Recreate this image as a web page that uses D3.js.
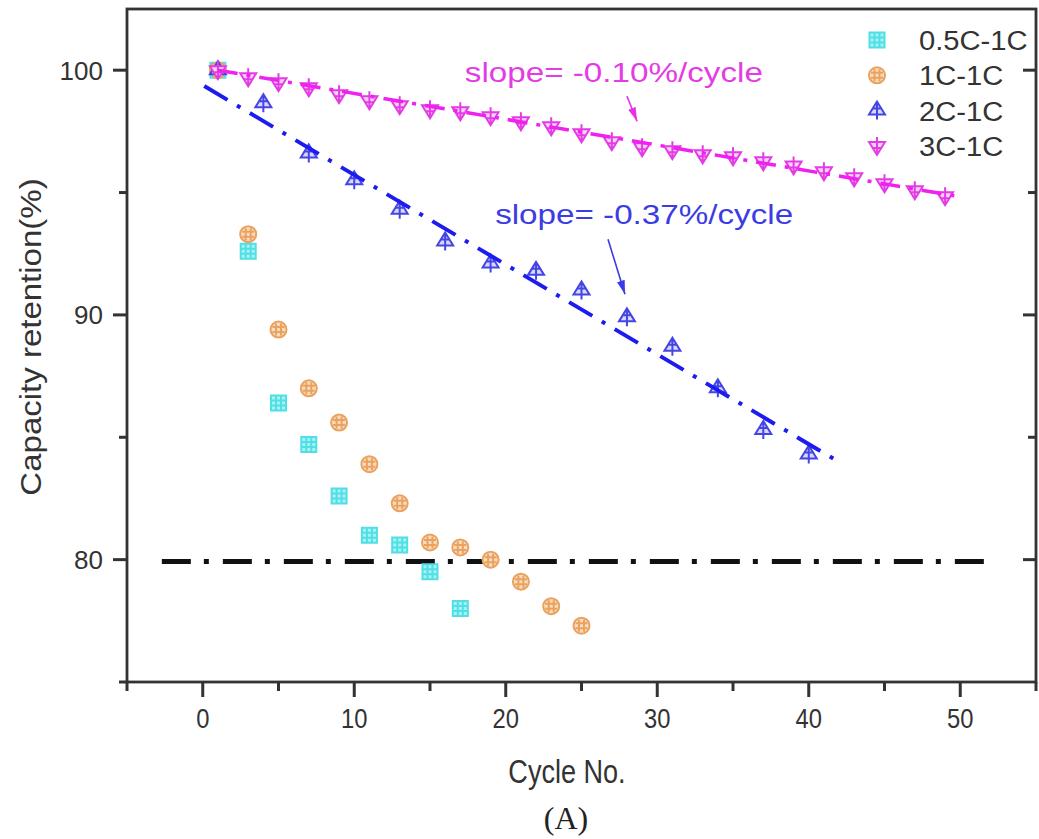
<!DOCTYPE html>
<html>
<head>
<meta charset="utf-8">
<script src="https://cdn.jsdelivr.net/npm/d3@7"></script>
<style>
    body { margin: 0; background: #fff; }
    text { font-family: "Liberation Sans", Arial, sans-serif; }
</style>
</head>
<body>
<svg id="chart" width="1039" height="839"></svg>
<script>
// series
let cyc05 = [1, 3, 5, 7, 9, 11, 13, 15, 17]
let ret05 = [100, 92.6, 86.4, 84.7, 82.6, 81.0, 80.6, 79.5, 78.0]

let cyc1 = [1, 3, 5, 7, 9, 11, 13, 15, 17, 19, 21, 23, 25]
let ret1 = [100, 93.3, 89.4, 87.0, 85.6, 83.9, 82.3, 80.7, 80.5, 80.0, 79.1, 78.1, 77.3]

let cyc2 = [1, 4, 7, 10, 13, 16, 19, 22, 25, 28, 31, 34, 37, 40]
let ret2 = [100, 98.65, 96.6, 95.5, 94.3, 93.0, 92.1, 91.8, 91.0, 89.9, 88.7, 87.0, 85.3, 84.3]

let cyc3 = [1, 3, 5, 7, 9, 11, 13, 15, 17, 19, 21, 23, 25, 27, 29, 31, 33, 35, 37, 39, 41, 43, 45, 47, 49]
let ret3 = [100, 99.71, 99.51, 99.30, 99.02, 98.77, 98.57, 98.40, 98.32, 98.12, 97.91, 97.71, 97.42,
    97.10, 96.85, 96.73, 96.56, 96.48, 96.28, 96.11, 95.87, 95.62, 95.38, 95.09, 94.85]

// fitted lines and 80% limit
let fit2X = [0.1, 41.7]
let fit2Y = [99.35, 84.1]
let fit3X = [1, 49.8]
let fit3Y = [100.0, 94.85]
let limitX = [-2.7, 52.2]
let limitY = [79.92, 79.92]

let seriesNames = ["0.5C-1C", "1C-1C", "2C-1C", "3C-1C"]
let xTicks = [0, 10, 20, 30, 40, 50]
let xMinor = [-5, 5, 15, 25, 35, 45, 55]
let yTicks = [80, 90, 100]
let yMinor = [75, 85, 95]

let colors = {
    "0.5C-1C": "#4fdfe4",
    "1C-1C": "#eaa25e",
    "2C-1C": "#4545e6",
    "3C-1C": "#e43ce4"
}

let svg = d3.select("#chart")

let x = d3.scaleLinear().domain([-5, 55]).range([127, 1036])
let y = d3.scaleLinear().domain([75, 102.5]).range([682, 9])

let frame = "#333"

function squeeze(sel, k) {
    sel.each(function () {
        this.setAttribute("textLength", this.getComputedTextLength() * k)
        this.setAttribute("lengthAdjust", "spacingAndGlyphs")
    })
}

// ---- ticks
let tickLayer = svg.append("g")
    .attr("stroke", frame)
    .attr("stroke-width", 3)

function xTickLines(values, len) {
    tickLayer.append("g")
        .selectAll("line")
        .data(values)
        .enter()
        .append("line")
        .attr("x1", d => x(d)).attr("x2", d => x(d))
        .attr("y1", y(75)).attr("y2", y(75) + len)
}

function yTickLines(values, x0, len) {
    tickLayer.append("g")
        .selectAll("line")
        .data(values)
        .enter()
        .append("line")
        .attr("x1", x0).attr("x2", x0 + len)
        .attr("y1", d => y(d)).attr("y2", d => y(d))
}

xTickLines(xMinor, 9)
xTickLines(xTicks, 15)
yTickLines(yMinor, x(-5), -8)
yTickLines(yTicks, x(-5), -14)
yTickLines([85, 95], x(55), -8)
yTickLines(yTicks, x(55), -13)

let xl = svg.append("g")
    .selectAll("text")
    .data(xTicks)
    .enter()
    .append("text")
    .attr("x", d => x(d))
    .attr("y", 728)
    .attr("text-anchor", "middle")
    .attr("fill", "#333")
    .style("font-size", "27px")
    .text(d => d)
squeeze(xl, 0.88)

svg.append("g")
    .selectAll("text")
    .data(yTicks)
    .enter()
    .append("text")
    .attr("x", 103)
    .attr("y", d => y(d))
    .attr("dy", "0.36em")
    .attr("text-anchor", "end")
    .attr("fill", "#333")
    .style("font-size", "26px")
    .text(d => d)

// frame box
svg.append("rect")
    .attr("x", x(-5)).attr("y", y(102.5))
    .attr("width", x(55) - x(-5)).attr("height", y(75) - y(102.5))
    .attr("fill", "none")
    .attr("stroke", frame)
    .attr("stroke-width", 2.8)

// ---- 80% line
let line = d3.line().x(d => x(d[0])).y(d => y(d[1]))

svg.append("path")
    .attr("d", line(d3.zip(limitX, limitY)))
    .attr("stroke", "#111")
    .attr("stroke-width", 5)
    .attr("stroke-dasharray", "29,13,5,14")
    .attr("fill", "none")

// ---- marker shapes
function markerPath(name) {
    if (name == "0.5C-1C") {
        return "M-7.5,-7.5H7.5V7.5H-7.5Z M-2.5,-7.5V7.5 M2.5,-7.5V7.5 M-7.5,-2.5H7.5 M-7.5,2.5H7.5"
    }
    if (name == "1C-1C") {
        return "M8,0A8,8 0 1,1 -8,0A8,8 0 1,1 8,0Z M-2.5,-6V6 M2.5,-6V6 M-6,-2.5H6 M-6,2.5H6"
    }
    if (name == "2C-1C") {
        return "M0,-9L-8,4H8Z M0,-9V9 M-4,-2H4"
    }
    return "M0,9L-8,-4H8Z M0,9V-9 M-4,2H4"
}

function markerFill(name) {
    if (name == "0.5C-1C") return "#a8f2f5"
    if (name == "1C-1C") return "#f8dcc0"
    if (name == "2C-1C") return "#d8d8fb"
    return "#f8d4f8"
}

let allSeries = [
    { name: "0.5C-1C", xs: cyc05, ys: ret05 },
    { name: "1C-1C", xs: cyc1, ys: ret1 },
    { name: "2C-1C", xs: cyc2, ys: ret2 },
    { name: "3C-1C", xs: cyc3, ys: ret3 }
]

allSeries.forEach(s => {
    svg.append("g")
        .selectAll("path")
        .data(d3.zip(s.xs, s.ys))
        .enter()
        .append("path")
        .attr("transform", d => "translate(" + x(d[0]) + "," + y(d[1]) + ")")
        .attr("d", markerPath(s.name))
        .attr("fill", markerFill(s.name))
        .attr("stroke", colors[s.name])
        .attr("stroke-width", 2)
})

// ---- fitted lines
svg.append("path")
    .attr("d", line(d3.zip(fit2X, fit2Y)))
    .attr("stroke", "#1c1cf0")
    .attr("stroke-width", 4)
    .attr("stroke-dasharray", "27,11,4,11")
    .attr("fill", "none")

svg.append("path")
    .attr("d", line(d3.zip(fit3X, fit3Y)))
    .attr("stroke", "#f020f0")
    .attr("stroke-width", 3.5)
    .attr("stroke-dasharray", "20,9,4,9")
    .attr("fill", "none")

// ---- annotations
let defs = svg.append("defs")
function arrowHead(id, color) {
    defs.append("marker")
        .attr("id", id)
        .attr("viewBox", "0 0 14 8")
        .attr("refX", 14).attr("refY", 4)
        .attr("markerWidth", 14).attr("markerHeight", 8)
        .attr("markerUnits", "userSpaceOnUse")
        .attr("orient", "auto")
        .append("path")
        .attr("d", "M0,0L14,4L0,8Z")
        .attr("fill", color)
}
arrowHead("ahBlue", "#3a3ae8")
arrowHead("ahPink", "#e830e8")

let notes = [
    { text: "slope= -0.10%/cycle", tx: 17.3, ty: 99.51, len: 298, color: "#e43ce4", ax: [28.0, 28.67], ay: [98.94, 97.91], head: "ahPink" },
    { text: "slope= -0.37%/cycle", tx: 19.3, ty: 93.70, len: 298, color: "#3c3ce4", ax: [26.75, 27.87], ay: [93.09, 90.84], head: "ahBlue" }
]

notes.forEach(n => {
    svg.append("text")
        .attr("x", x(n.tx))
        .attr("y", y(n.ty))
        .attr("fill", n.color)
        .attr("textLength", n.len)
        .attr("lengthAdjust", "spacingAndGlyphs")
        .style("font-size", "28px")
        .text(n.text)

    svg.append("path")
        .attr("d", line(d3.zip(n.ax, n.ay)))
        .attr("stroke", n.color)
        .attr("stroke-width", 1.6)
        .attr("marker-end", "url(#" + n.head + ")")
})

// ---- legend
let legendTop = 40
let legendStep = 35.3
let lg = svg.append("g")
    .selectAll("g")
    .data(seriesNames)
    .enter()
    .append("g")
    .attr("transform", (d, i) => "translate(877," + (legendTop + i * legendStep) + ")")

lg.append("path")
    .attr("d", d => markerPath(d))
    .attr("fill", d => markerFill(d))
    .attr("stroke", d => colors[d])
    .attr("stroke-width", 2)

let lt = lg.append("text")
    .attr("x", 42)
    .attr("y", 10)
    .attr("fill", "#333")
    .style("font-size", "27px")
    .text(d => d)
squeeze(lt, 1.08)

// ---- axis titles
let xt = svg.append("text")
    .attr("x", 567)
    .attr("y", 783)
    .attr("text-anchor", "middle")
    .attr("fill", "#333")
    .style("font-size", "33px")
    .text("Cycle No.")
squeeze(xt, 0.82)

let yt = svg.append("text")
    .attr("transform", "translate(41,337) rotate(-90)")
    .attr("text-anchor", "middle")
    .attr("fill", "#333")
    .style("font-size", "30px")
    .text("Capacity retention(%)")
squeeze(yt, 1.1)

svg.append("text")
    .attr("x", 566)
    .attr("y", 829)
    .attr("text-anchor", "middle")
    .attr("fill", "#222")
    .style("font-family", "'Liberation Serif', 'Times New Roman', serif")
    .style("font-size", "32px")
    .text("(A)")
</script>
</body>
</html>
